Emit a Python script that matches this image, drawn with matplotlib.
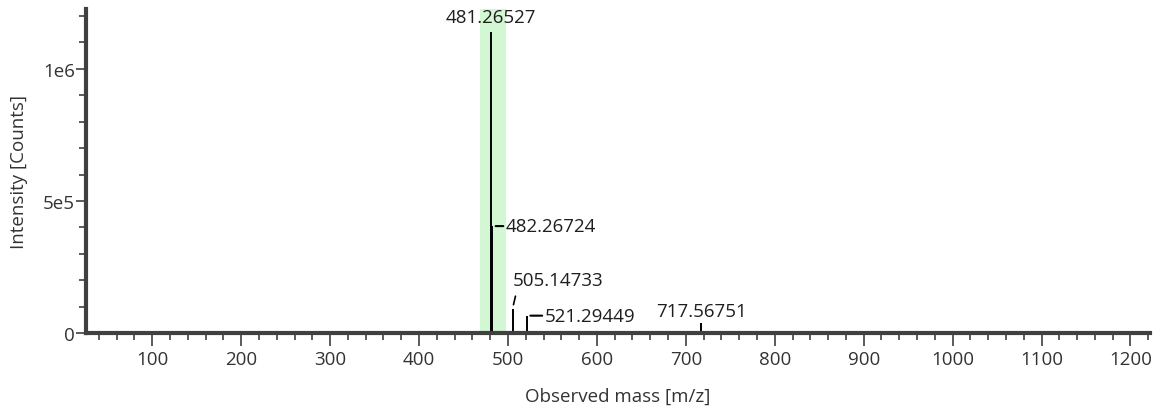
"""
Mass spectrum stick plot with labelled peaks and a highlighted window.
"""

import matplotlib
matplotlib.use('Agg')
import matplotlib.pyplot as plt
from matplotlib.ticker import MultipleLocator, FuncFormatter

# Peak data
mz = [481.26527, 482.26724, 505.14733, 521.29449, 717.56751]
intensity = [1.14e6, 4.05e5, 9.2e4, 6.6e4, 4.0e4]
peak_labels = ['481.26527', '482.26724', '505.14733', '521.29449', '717.56751']

# highlighted m/z window
window = (468.5, 498.2)

plt.rcParams['font.family'] = ['Open Sans', 'DejaVu Sans']
axis_grey = '#404040'

fig = plt.figure(figsize=(11.64, 4.14), dpi=100)
ax = fig.add_axes([0.074, 0.193, 0.914, 0.783])

ax.axvspan(window[0], window[1], color='#d2f7d2', lw=0, zorder=0)
ax.vlines(mz, 0, intensity, color='black', lw=1.4, zorder=2)

# label placement for each peak (offset in points, alignment)
fs = 13.5
txt_col = '#1e1e1e'
# 481: straight above
ax.annotate(peak_labels[0], xy=(mz[0], intensity[0]), xytext=(0, 4),
            textcoords='offset points', ha='center', va='bottom', fontsize=fs, color=txt_col)
# 482: horizontal leader to the right
ax.annotate(peak_labels[1], xy=(mz[1], intensity[1]), xytext=(10, 0),
            textcoords='offset points', ha='left', va='center', fontsize=fs, color=txt_col,
            arrowprops=dict(arrowstyle='-', color='black', lw=1.5, shrinkA=0, shrinkB=2.5))
# 505: slanted leader
ax.annotate(peak_labels[2], xy=(mz[2], intensity[2]), xytext=(0, 14),
            textcoords='offset points', ha='left', va='bottom', fontsize=fs, color=txt_col,
            arrowprops=dict(arrowstyle='-', color='black', lw=1.2, shrinkA=3, shrinkB=3,
                            relpos=(0.05, 0.0)))
# 521: horizontal leader
ax.annotate(peak_labels[3], xy=(mz[3], intensity[3]), xytext=(13, 0),
            textcoords='offset points', ha='left', va='center', fontsize=fs, color=txt_col,
            arrowprops=dict(arrowstyle='-', color='black', lw=1.5, shrinkA=0, shrinkB=2.5))
# 717: straight above
ax.annotate(peak_labels[4], xy=(mz[4], intensity[4]), xytext=(0, 2),
            textcoords='offset points', ha='center', va='bottom', fontsize=fs, color=txt_col)

ax.set_xlim(25.7, 1222)
ax.set_ylim(0, 1.227e6)

ax.xaxis.set_major_locator(MultipleLocator(100))
ax.xaxis.set_minor_locator(MultipleLocator(20))
ax.yaxis.set_major_locator(MultipleLocator(5e5))
ax.yaxis.set_minor_locator(MultipleLocator(1e5))


def y_fmt(v, pos):
    if v == 0:
        return '0'
    if v == 5e5:
        return '5e5'
    if v == 1e6:
        return '1e6'
    return ''


ax.yaxis.set_major_formatter(FuncFormatter(y_fmt))

for side in ['top', 'right']:
    ax.spines[side].set_visible(False)
for side in ['left', 'bottom']:
    ax.spines[side].set_color(axis_grey)
    ax.spines[side].set_linewidth(3)

ax.tick_params(axis='x', which='major', length=9, width=1.2, color=axis_grey,
               labelsize=13.5, labelcolor='#333333', pad=3)
ax.tick_params(axis='x', which='minor', length=5, width=1.2, color=axis_grey)
ax.tick_params(axis='y', which='major', length=7, width=1.2, color=axis_grey,
               labelsize=13.5, labelcolor='#333333', pad=1)
ax.tick_params(axis='y', which='minor', length=5, width=1.2, color=axis_grey)

ax.set_xlabel('Observed mass [m/z]', fontsize=13.5, color='#333333', labelpad=14)
ax.set_ylabel('Intensity [Counts]', fontsize=13.5, color='#333333', labelpad=11)

plt.savefig('out.png', dpi=100)
